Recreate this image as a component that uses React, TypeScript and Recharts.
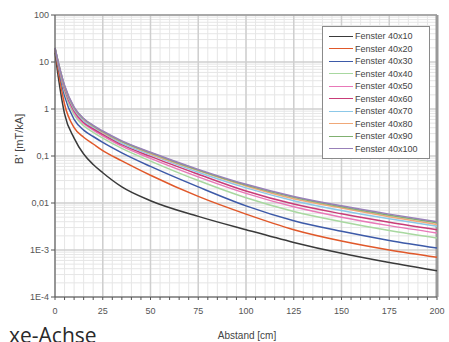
import React from 'react';
import {
  CartesianGrid,
  Line,
  LineChart,
  ReferenceLine,
  XAxis,
  YAxis,
} from 'recharts';

// Abstand [cm]
const distances = [0, 2, 5, 10, 15, 20, 25, 35, 50, 75, 100, 125, 150, 175, 200];

// B' [mT/kA] je Fenstergröße
const f40x10 = [15.8, 4.0, 0.79, 0.24, 0.11, 0.066, 0.044, 0.022, 0.0112, 0.0052, 0.0027, 0.00145, 0.00085, 0.00054, 0.00036];
const f40x20 = [17.8, 5.6, 1.26, 0.4, 0.25, 0.18, 0.13, 0.079, 0.039, 0.0138, 0.0058, 0.0027, 0.00155, 0.001, 0.0007];
const f40x30 = [18.6, 7.1, 1.9, 0.6, 0.355, 0.26, 0.195, 0.117, 0.06, 0.022, 0.0087, 0.0042, 0.0025, 0.0016, 0.0011];
const f40x40 = [19, 7.8, 2.3, 0.76, 0.44, 0.32, 0.24, 0.145, 0.078, 0.03, 0.0129, 0.0066, 0.004, 0.0026, 0.0018];
const f40x50 = [19.5, 8.1, 2.6, 0.85, 0.49, 0.355, 0.27, 0.162, 0.089, 0.036, 0.016, 0.0083, 0.005, 0.0033, 0.0023];
const f40x60 = [19.5, 8.3, 2.7, 0.91, 0.52, 0.38, 0.29, 0.174, 0.098, 0.041, 0.018, 0.0095, 0.0059, 0.0039, 0.0027];
const f40x70 = [20, 8.5, 2.9, 0.98, 0.56, 0.41, 0.31, 0.186, 0.107, 0.045, 0.021, 0.0112, 0.0069, 0.0046, 0.0032];
const f40x80 = [20, 8.7, 3.0, 1.05, 0.6, 0.43, 0.32, 0.2, 0.112, 0.049, 0.023, 0.0123, 0.0078, 0.0051, 0.0035];
const f40x90 = [20, 8.9, 3.1, 1.07, 0.62, 0.44, 0.33, 0.204, 0.117, 0.05, 0.024, 0.0132, 0.0083, 0.0055, 0.0038];
const f40x100 = [20, 8.9, 3.2, 1.1, 0.63, 0.45, 0.34, 0.21, 0.12, 0.052, 0.025, 0.0138, 0.0087, 0.0058, 0.004];

const seriesNames = [
  'Fenster 40x10',
  'Fenster 40x20',
  'Fenster 40x30',
  'Fenster 40x40',
  'Fenster 40x50',
  'Fenster 40x60',
  'Fenster 40x70',
  'Fenster 40x80',
  'Fenster 40x90',
  'Fenster 40x100',
];
const seriesValues = [f40x10, f40x20, f40x30, f40x40, f40x50, f40x60, f40x70, f40x80, f40x90, f40x100];
const seriesColors = [
  '#3a3a3a',
  '#e0582a',
  '#3d5aa8',
  '#a8d8a0',
  '#e878b8',
  '#c83c78',
  '#8cc8e8',
  '#f0a878',
  '#80b070',
  '#9880b8',
];

const yTicks = [1e-4, 1e-3, 0.01, 0.1, 1, 10, 100];
const yTickLabels = ['1E-4', '1E-3', '0,01', '0,1', '1', '10', '100'];
const xTicks = Array.from({ length: 41 }, (_, i) => i * 5);
const xMajor = [0, 25, 50, 75, 100, 125, 150, 175, 200];

const yMinor = [1e-4, 1e-3, 0.01, 0.1, 1, 10].flatMap((d) =>
  [2, 3, 4, 5, 6, 7, 8, 9].map((k) => k * d),
);

const rows = distances.map((x, i) => {
  const row: Record<string, number> = { x };
  seriesNames.forEach((name, s) => {
    row[name] = seriesValues[s][i];
  });
  return row;
});

const font = '"Liberation Sans", Arial, sans-serif';

function LegendBox() {
  return (
    <div
      style={{
        position: 'absolute',
        left: 322,
        top: 26,
        border: '1px solid #8a8a8a',
        background: '#fff',
        padding: '3px 0',
        width: 106,
        fontFamily: font,
        fontSize: 9,
        color: '#444',
      }}
    >
      {seriesNames.map((name, i) => (
        <div key={name} style={{ display: 'flex', alignItems: 'center', height: 12.5 }}>
          <div
            style={{
              marginLeft: 6,
              width: 24,
              height: 0,
              borderTop: `1.5px solid ${seriesColors[i]}`,
            }}
          />
          <span style={{ marginLeft: 2, whiteSpace: 'nowrap' }}>{name}</span>
        </div>
      ))}
    </div>
  );
}

export default function App() {
  return (
    <div
      style={{
        position: 'absolute',
        left: 0,
        top: 0,
        width: 449,
        height: 342,
        overflow: 'hidden',
        background: '#fff',
        fontFamily: font,
      }}
    >
      <LineChart
        width={449}
        height={342}
        data={rows}
        margin={{ top: 15, right: 12, left: 0, bottom: 15 }}
      >
        <CartesianGrid
          stroke="#e6e6e6"
          strokeWidth={1}
          horizontalValues={yMinor}
          verticalValues={xTicks}
        />
        <CartesianGrid
          stroke="#cfcfcf"
          strokeWidth={1.5}
          horizontalValues={yTicks}
          verticalValues={xMajor}
        />
        <XAxis
          dataKey="x"
          type="number"
          domain={[0, 200]}
          ticks={xTicks}
          interval={0}
          tickFormatter={(v: number) => (v % 25 === 0 ? String(v) : '')}
          tick={{ fontSize: 9, fill: '#555', fontFamily: font }}
          tickSize={3}
          tickMargin={8}
          stroke="#555"
          height={30}
        />
        <YAxis
          type="number"
          scale="log"
          domain={[1e-4, 100]}
          ticks={yTicks}
          interval={0}
          allowDataOverflow
          tickFormatter={(v: number) => yTickLabels[yTicks.indexOf(v)] ?? ''}
          tick={{ fontSize: 9, fill: '#555', fontFamily: font }}
          tickSize={4}
          tickMargin={2}
          stroke="#555"
          width={55}
        />
        <ReferenceLine y={100} stroke="#999" strokeWidth={1.5} />
        <ReferenceLine x={200} stroke="#999" strokeWidth={3} />
        {seriesNames.map((name, i) => (
          <Line
            key={name}
            dataKey={name}
            type="monotone"
            stroke={seriesColors[i]}
            strokeWidth={1.5}
            dot={false}
            isAnimationActive={false}
          />
        ))}
      </LineChart>
      <LegendBox />
      <div
        style={{
          position: 'absolute',
          left: 19,
          top: 139,
          transform: 'translate(-50%, -50%) rotate(-90deg)',
          fontSize: 11,
          color: '#444',
          whiteSpace: 'nowrap',
        }}
      >
        B' [mT/kA]
      </div>
      <div
        style={{
          position: 'absolute',
          left: 247,
          top: 335,
          transform: 'translate(-50%, -50%)',
          fontSize: 10,
          color: '#444',
          whiteSpace: 'nowrap',
        }}
      >
        Abstand [cm]
      </div>
      <div
        style={{
          position: 'absolute',
          left: 9,
          top: 323,
          fontSize: 21,
          lineHeight: '24px',
          color: '#2a2a2a',
          fontFamily: '"Open Sans", sans-serif',
          whiteSpace: 'nowrap',
        }}
      >
        xe-Achse
      </div>
    </div>
  );
}
